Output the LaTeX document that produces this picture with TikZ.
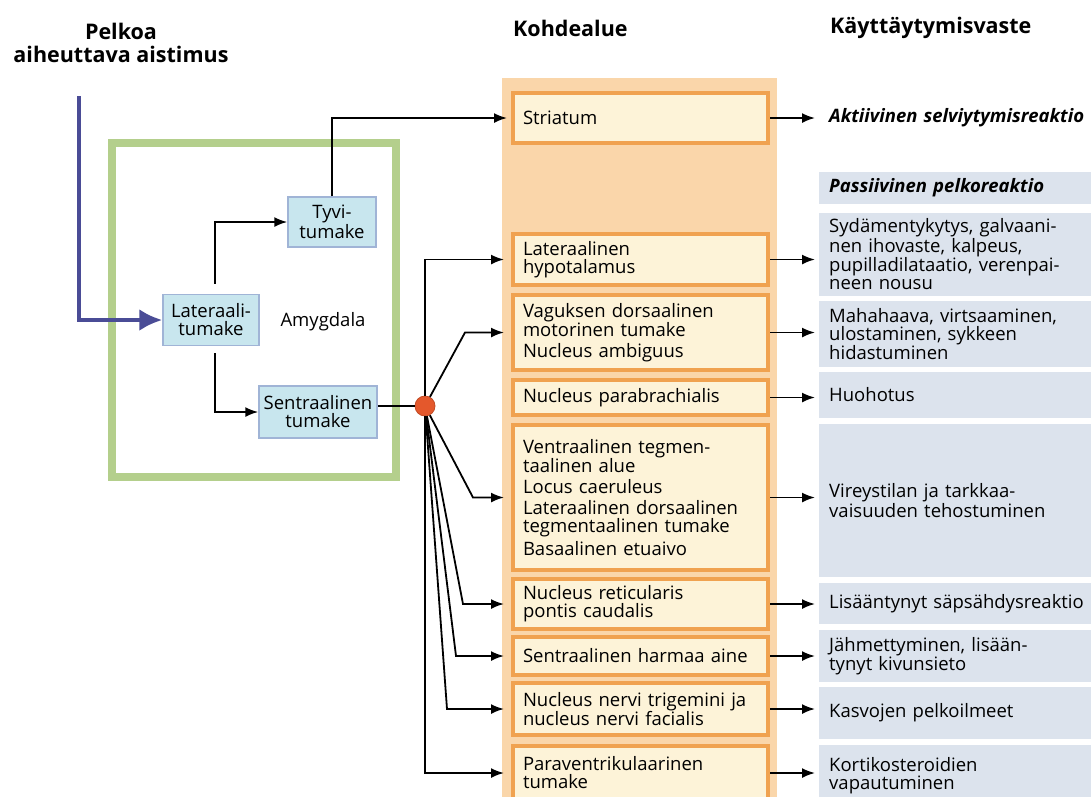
\documentclass[tikz,border=0pt]{standalone}
\usepackage{fontspec}
\setmainfont{Open Sans}
\usetikzlibrary{arrows.meta}
\definecolor{stimblue}{RGB}{74,76,150}
\definecolor{amygreen}{RGB}{180,207,140}
\definecolor{nucfill}{RGB}{200,230,238}
\definecolor{nucline}{RGB}{160,180,214}
\definecolor{colpeach}{RGB}{250,214,170}
\definecolor{tgtfill}{RGB}{253,243,216}
\definecolor{tgtline}{RGB}{240,162,80}
\definecolor{respfill}{RGB}{220,227,237}
\definecolor{hubred}{RGB}{228,88,44}
\tikzstyle{nucleus} = [
	rectangle,
	draw=nucline,
	line width=1.5pt,
	fill=nucfill,
	align=center,
	inner sep=2pt
]
\tikzstyle{target} = [
	rectangle,
	draw=tgtline,
	line width=4pt,
	fill=tgtfill,
	text width=235pt,
	inner xsep=10pt,
	inner ysep=0pt,
	minimum width=255pt,
	align=left
]
\tikzstyle{response} = [
	rectangle,
	fill=respfill,
	anchor=west,
	text width=262pt,
	inner xsep=10pt,
	inner ysep=0pt,
	align=left
]
\tikzstyle{heading} = [font=\fontsize{21.5}{23}\selectfont\bfseries, inner sep=0pt]
\tikzstyle{arrow} = [line width=1.8pt, -{Latex[length=13pt,width=10pt]}]
\tikzstyle{stimulus} = [line width=4pt, draw=stimblue, -{Latex[length=23pt,width=22pt]}]

\begin{document}
\begin{tikzpicture}[x=1pt, y=-1pt, font=\fontsize{18.5}{18}\selectfont]
    \useasboundingbox (0,0) rectangle (1091,796);
    \fill[white] (0,0) rectangle (1091,796);
    \fill[colpeach] (502,78) rectangle (777,810);
    \draw[amygreen, line width=8pt] (112,143) rectangle (396,477);

    \node[heading, align=center] at (121,43) (stimtitle) {Pelkoa\\aiheuttava aistimus};
    \node[heading, anchor=west] at (513,28) (targettitle) {Kohdealue};
    \node[heading, anchor=west] at (830,28) (resptitle) {Käyttäytymisvaste};

    \node[nucleus, minimum width=88pt, minimum height=50pt] at (332,222) (basal) {Tyvi-\\tumake};
    \node[nucleus, minimum width=96pt, minimum height=51pt] at (211,320) (lateral) {Lateraali-\\tumake};
    \node[nucleus, minimum width=118pt, minimum height=52pt] at (318,412) (central) {Sentraalinen\\tumake};
    \node at (323,322) (amygdala) {Amygdala};
    \node[circle, fill=hubred, draw=hubred!85!black, line width=0.8pt, minimum size=20pt, inner sep=0pt] at (425,406) (hub) {};

    \node[target, minimum height=50pt] at (640.5,118) (striatum) {Striatum};
    \node[target, minimum height=51pt] at (640.5,259.5) (lathyp) {Lateraalinen\\hypotalamus};
    \node[target, minimum height=75pt] at (640.5,332.5) (vagus) {Vaguksen dorsaalinen\\motorinen tumake\\[3pt]Nucleus ambiguus};
    \node[target, minimum height=35pt] at (640.5,397.5) (parab) {Nucleus parabrachialis};
    \node[target, minimum height=145pt] at (640.5,497.5) (vent) {Ventraalinen tegmen-\\taalinen alue\\[3pt]Locus caeruleus\\[3pt]Lateraalinen dorsaalinen\\tegmentaalinen tumake\\[3pt]Basaalinen etuaivo};
    \node[target, minimum height=50pt] at (640.5,604) (retic) {Nucleus reticularis\\pontis caudalis};
    \node[target, minimum height=38pt] at (640.5,656) (grey) {Sentraalinen harmaa aine};
    \node[target, minimum height=52pt] at (640.5,709) (trig) {Nucleus nervi trigemini ja\\nucleus nervi facialis};
    \node[target, minimum height=54pt] at (640.5,773) (para) {Paraventrikulaarinen\\tumake};

    \node[response, fill=none] at (819,118) (active) {\bfseries\itshape Aktiivinen selviytymisreaktio};
    \node[response, minimum height=32pt] at (819,188) (passive) {\bfseries\itshape Passiivinen pelkoreaktio};
    \node[response, minimum height=83pt] at (819,254.5) (heart) {Sydämentykytys, galvaani-\\nen ihovaste, kalpeus,\\pupilladilataatio, verenpai-\\neen nousu};
    \node[response, minimum height=66pt] at (819,334) (gut) {Mahahaava, virtsaaminen,\\ulostaminen, sykkeen\\hidastuminen};
    \node[response, minimum height=46pt] at (819,395) (breath) {Huohotus};
    \node[response, minimum height=153pt] at (819,500.5) (arousal) {Vireystilan ja tarkkaa-\\vaisuuden tehostuminen};
    \node[response, minimum height=41pt] at (819,603.5) (startle) {Lisääntynyt säpsähdysreaktio};
    \node[response, minimum height=52pt] at (819,656) (freeze) {Jähmettyminen, lisään-\\tynyt kivunsieto};
    \node[response, minimum height=52pt] at (819,713) (face) {Kasvojen pelkoilmeet};
    \node[response, minimum height=61pt] at (819,775.5) (cortico) {Kortikosteroidien\\vapautuminen};

    \coordinate (stimtop) at (79,96);
    \draw[stimulus] (stimtop) |- (lateral.west);
    \draw[arrow, shorten <=10pt] ([xshift=4pt]lateral.north) |- (basal.west);
    \draw[arrow, shorten <=7pt] ([xshift=4pt]lateral.south) |- (central.west);
    \draw[arrow, shorten >=4pt] (basal.north) |- (striatum.west);
    \draw[line width=1.8pt] (central.east |- hub) -- (hub);

    \draw[arrow, shorten >=7pt] (hub) |- (lathyp.west);
    \draw[arrow, shorten >=7pt] (hub) -- ([xshift=-46pt]vagus.west) -- (vagus.west);
    \draw[arrow, shorten >=7pt] (hub) -- ([xshift=-38pt]vent.west) -- (vent.west);
    \draw[arrow, shorten >=7pt] (hub) -- ([xshift=-48pt]retic.west) -- (retic.west);
    \draw[arrow, shorten >=7pt] (hub) -- ([xshift=-55pt]grey.west) -- (grey.west);
    \draw[arrow, shorten >=7pt] (hub) -- ([xshift=-64pt]trig.west) -- (trig.west);
    \draw[arrow, shorten >=7pt] (hub) |- (para.west);

    \draw[arrow, shorten >=4pt] (striatum.east) -- (active.west);
    \foreach \a/\b in {lathyp/heart, vagus/gut, parab/breath, vent/arousal, retic/startle, grey/freeze, trig/face, para/cortico}
      \draw[arrow, shorten >=4pt] (\a.east) -- (\a.east -| \b.west);
\end{tikzpicture}
\end{document}
